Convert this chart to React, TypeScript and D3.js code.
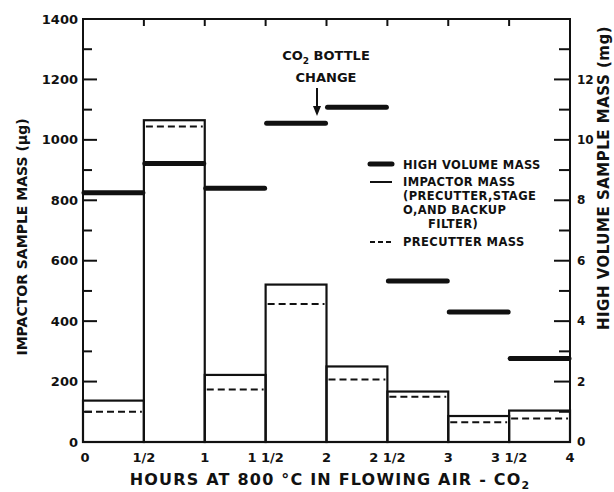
import React from "react";
import * as d3 from "d3";

// half-hour sampling intervals (start, in hours)
const intervalStarts = [0, 0.5, 1, 1.5, 2, 2.5, 3, 3.5];
const intervalWidth = 0.5;
// impactor mass (precutter + stage 0 + backup filter), µg
const impactorMass = [137, 1065, 222, 521, 250, 167, 86, 104];
// precutter mass, µg
const precutterMass = [100, 1044, 174, 457, 207, 150, 65, 78];
// high volume sample mass, mg (right axis)
const highVolumeMass = [8.25, 9.22, 8.4, 10.55, 11.08, 5.33, 4.3, 2.76];

const xTicks = [0, 0.5, 1, 1.5, 2, 2.5, 3, 3.5, 4];
const xTickLabels = ["0", "1/2", "1", "1 1/2", "2", "2 1/2", "3", "3 1/2", "4"];
const leftTicks = [0, 200, 400, 600, 800, 1000, 1200, 1400];
const leftMinor = [100, 300, 500, 700, 900, 1100, 1300];
const rightTicks = [0, 2, 4, 6, 8, 10, 12];
const rightMinor = [1, 3, 5, 7, 9, 11, 13];

const W = 614;
const H = 492;
const font = "'DejaVu Sans', 'Liberation Sans', sans-serif";
const ink = "#111";

export default function App() {
  const x = d3.scaleLinear().domain([0, 4]).range([83, 570]);
  const yL = d3.scaleLinear().domain([0, 1400]).range([442, 19]);
  const yR = d3.scaleLinear().domain([0, 14]).range([442, 19]);

  const left = x(0);
  const right = x(4);
  const top = yL(1400);
  const bottom = yL(0);

  return (
    <svg
      width={W}
      height={H}
      style={{ position: "absolute", left: 0, top: 0, background: "#fff" }}
      fontFamily={font}
      fontWeight="bold"
      fill={ink}
    >
      {/* frame */}
      <rect x={left} y={top} width={right - left} height={bottom - top} fill="none" stroke={ink} strokeWidth={2} />

      {/* top ticks */}
      {xTicks.slice(1, -1).map((t) => (
        <line key={"tt" + t} x1={x(t)} x2={x(t)} y1={top} y2={top + 7} stroke={ink} strokeWidth={2} />
      ))}

      {/* left axis */}
      {leftTicks.map((t) => (
        <g key={"l" + t}>
          <line x1={left} x2={left + 14} y1={yL(t)} y2={yL(t)} stroke={ink} strokeWidth={2} />
          <text x={left - 5} y={yL(t)} dy="0.35em" textAnchor="end" fontSize={13}>
            {t}
          </text>
        </g>
      ))}
      {leftMinor.map((t) => (
        <line key={"lm" + t} x1={left} x2={left + 9} y1={yL(t)} y2={yL(t)} stroke={ink} strokeWidth={2} />
      ))}

      {/* right axis */}
      {rightTicks.map((t) => (
        <g key={"r" + t}>
          <line x1={right - 16} x2={right} y1={yR(t)} y2={yR(t)} stroke={ink} strokeWidth={2} />
          <text x={right + 7} y={yR(t)} dy="0.35em" textAnchor="start" fontSize={12}>
            {t}
          </text>
        </g>
      ))}
      {rightMinor.map((t) => (
        <line key={"rm" + t} x1={right - 11} x2={right} y1={yR(t)} y2={yR(t)} stroke={ink} strokeWidth={2} />
      ))}

      {/* x tick labels */}
      {xTicks.map((t, i) => (
        <text key={"xl" + t} x={x(t) + (i === 0 ? 2 : 0)} y={bottom + 15} dy="0.35em" textAnchor="middle" fontSize={13}>
          {xTickLabels[i]}
        </text>
      ))}

      {/* impactor bars */}
      {intervalStarts.map((s, i) => (
        <rect
          key={"b" + s}
          x={x(s)}
          y={yL(impactorMass[i])}
          width={x(s + intervalWidth) - x(s)}
          height={bottom - yL(impactorMass[i])}
          fill="none"
          stroke={ink}
          strokeWidth={2.2}
        />
      ))}

      {/* precutter dashed */}
      {intervalStarts.map((s, i) => (
        <line
          key={"p" + s}
          x1={x(s) + 2}
          x2={x(s + intervalWidth) - 2}
          y1={yL(precutterMass[i])}
          y2={yL(precutterMass[i])}
          stroke={ink}
          strokeWidth={2}
          strokeDasharray="7,4"
        />
      ))}

      {/* high volume mass */}
      {intervalStarts.map((s, i) => (
        <line
          key={"h" + s}
          x1={x(s) + 1}
          x2={x(s + intervalWidth) - 1}
          y1={yR(highVolumeMass[i])}
          y2={yR(highVolumeMass[i])}
          stroke={ink}
          strokeWidth={5}
          strokeLinecap="round"
        />
      ))}

      {/* CO2 bottle change annotation */}
      <text x={326} y={55} dy="0.35em" textAnchor="middle" fontSize={13}>
        CO<tspan fontSize={9} dy="4">2</tspan>
        <tspan dy="-4"> BOTTLE</tspan>
      </text>
      <text x={326} y={77} dy="0.35em" textAnchor="middle" fontSize={13}>
        CHANGE
      </text>
      <line x1={317} x2={317} y1={88} y2={110} stroke={ink} strokeWidth={2} />
      <path d="M313,106 L321,106 L317,116 Z" fill={ink} />

      {/* legend */}
      <line x1={370} x2={392} y1={164} y2={164} stroke={ink} strokeWidth={5} strokeLinecap="round" />
      <line x1={370} x2={392} y1={182} y2={182} stroke={ink} strokeWidth={2} />
      <line x1={370} x2={392} y1={242} y2={242} stroke={ink} strokeWidth={2} strokeDasharray="5,3" />
      <g fontSize={11.5} letterSpacing={0.4}>
        <text x={403} y={165} dy="0.35em">HIGH VOLUME MASS</text>
        <text x={403} y={182} dy="0.35em">IMPACTOR MASS</text>
        <text x={403} y={196} dy="0.35em">(PRECUTTER,STAGE</text>
        <text x={403} y={210} dy="0.35em">O,AND BACKUP</text>
        <text x={428} y={224} dy="0.35em">FILTER)</text>
        <text x={403} y={242} dy="0.35em">PRECUTTER MASS</text>
      </g>

      {/* axis titles */}
      <text transform={`translate(22,237) rotate(-90)`} textAnchor="middle" dy="0.35em" fontSize={14}>
        IMPACTOR SAMPLE MASS (µg)
      </text>
      <text
        transform={`translate(604,178) rotate(-90)`}
        textAnchor="middle"
        dy="0.35em"
        fontSize={15}
        letterSpacing={0.5}
      >
        HIGH VOLUME SAMPLE MASS (mg)
      </text>
      <text x={330} y={479} dy="0.35em" textAnchor="middle" fontSize={16} letterSpacing={1.2}>
        HOURS AT 800 °C IN FLOWING AIR - CO<tspan fontSize={11} dy="4">2</tspan>
      </text>
    </svg>
  );
}
